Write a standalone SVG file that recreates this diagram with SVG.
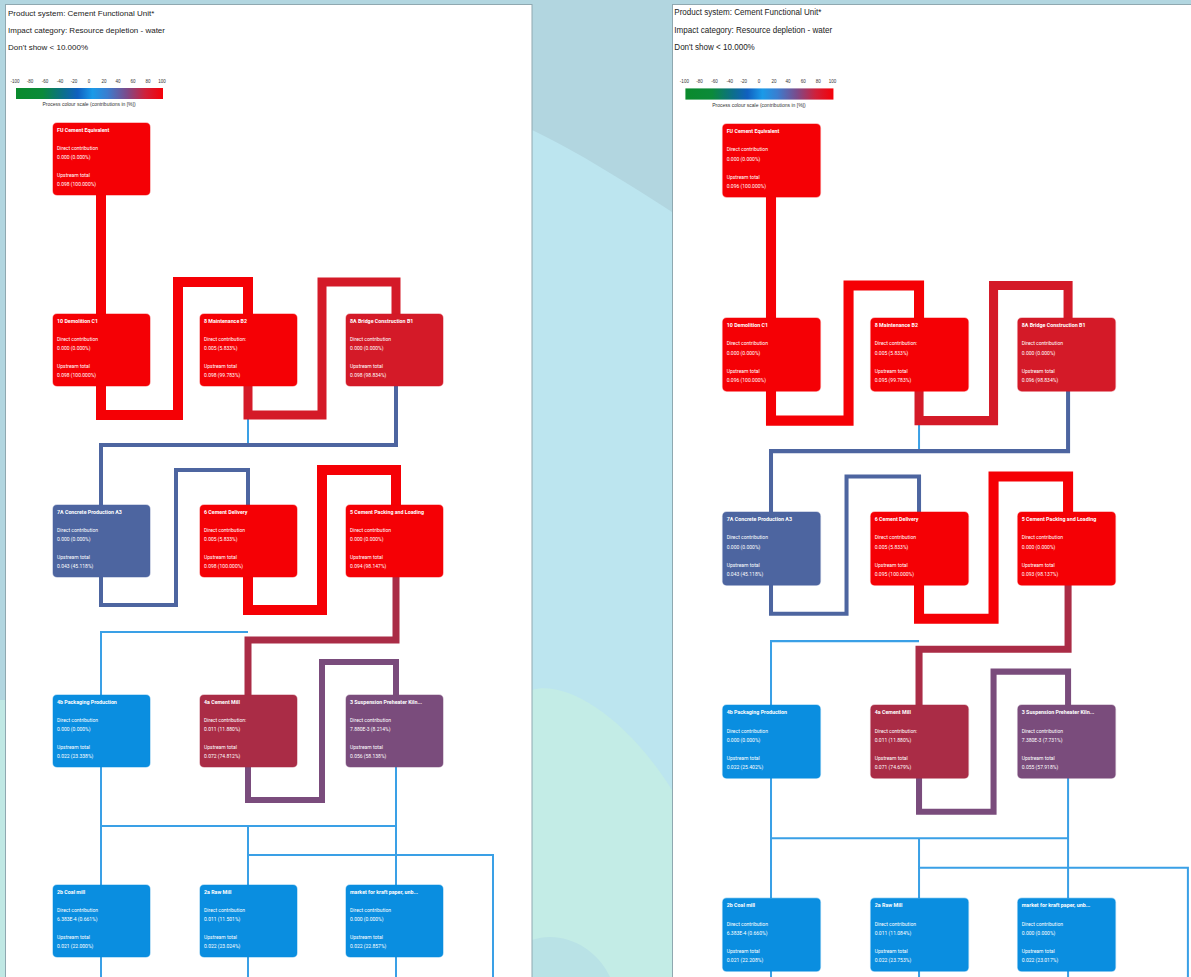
<svg xmlns="http://www.w3.org/2000/svg" width="1191" height="977" viewBox="0 0 1191 977">
<defs>
<linearGradient id="scale" x1="0" y1="0" x2="1" y2="0">
<stop offset="0" stop-color="#0a8a2c"/>
<stop offset="0.18" stop-color="#0b8a3a"/>
<stop offset="0.32" stop-color="#0c6f8a"/>
<stop offset="0.42" stop-color="#1060c0"/>
<stop offset="0.52" stop-color="#1a9ae8"/>
<stop offset="0.62" stop-color="#3a7ed0"/>
<stop offset="0.75" stop-color="#7a4c8c"/>
<stop offset="0.88" stop-color="#d0203a"/>
<stop offset="1" stop-color="#f50008"/>
</linearGradient>
<style>
.hd{font-family:"Liberation Sans",Arial,sans-serif;font-size:8px;fill:#222}
.tk{font-family:"Liberation Sans",Arial,sans-serif;font-size:4.5px;fill:#333}
.cap{font-family:"Liberation Sans",Arial,sans-serif;font-size:5px;fill:#333}
.node rect{stroke-width:1.5;stroke-opacity:0.35}
.node text{font-family:Roboto,"Liberation Sans",sans-serif;font-size:5px;fill:#fff}
.node text.t{font-weight:bold;font-size:5.3px}
.c{fill:none;stroke-linejoin:miter;stroke-linecap:butt}
.red{stroke:#f50005;stroke-width:10}
.crim{stroke:#d41a28;stroke-width:9}
.blue{stroke:#4d65a0;stroke-width:4}
.mill{stroke:#aa2c46;stroke-width:7}
.purp{stroke:#7a4c7c;stroke-width:6}
.lb{stroke:#3aa0e6;stroke-width:2}
.fr{fill:#f50005;stroke:#f50005}
.fc{fill:#d41a28;stroke:#d41a28}
.fb{fill:#4d65a0;stroke:#4d65a0}
.fm{fill:#aa2c46;stroke:#aa2c46}
.fp{fill:#7a4c7c;stroke:#7a4c7c}
.fl{fill:#0a8ee0;stroke:#0a8ee0}
</style>
</defs>
<!-- background -->
<rect x="0" y="0" width="1191" height="977" fill="#b2d6e0"/>
<path d="M532,130 C575,150 630,185 672,212 V977 H532 Z" fill="#bce5ef"/>
<path d="M532,690 C565,680 625,715 672,790 V977 H532 Z" fill="#c3ece6"/>
<path d="M532,940 C560,930 595,945 610,977 H532 Z" fill="#b9e2e6"/>
<rect x="0" y="700" width="5" height="277" fill="#c0e8e4"/>

<!-- LEFT PANEL -->
<g id="left-panel">
<rect x="5.5" y="4.5" width="526.5" height="980" fill="#ffffff" stroke="#8fa8b0" stroke-width="1"/>
<text class="hd" x="8" y="16">Product system: Cement Functional Unit*</text>
<text class="hd" x="8" y="33">Impact category: Resource depletion - water</text>
<text class="hd" x="8" y="50">Don't show &lt; 10.000%</text>
<g id="l-scale">
<text class="tk" x="15" y="83" text-anchor="middle">-100</text>
<text class="tk" x="30" y="83" text-anchor="middle">-80</text>
<text class="tk" x="45" y="83" text-anchor="middle">-60</text>
<text class="tk" x="60" y="83" text-anchor="middle">-40</text>
<text class="tk" x="74" y="83" text-anchor="middle">-20</text>
<text class="tk" x="89" y="83" text-anchor="middle">0</text>
<text class="tk" x="104" y="83" text-anchor="middle">20</text>
<text class="tk" x="118" y="83" text-anchor="middle">40</text>
<text class="tk" x="133" y="83" text-anchor="middle">60</text>
<text class="tk" x="148" y="83" text-anchor="middle">80</text>
<text class="tk" x="162" y="83" text-anchor="middle">100</text>
<rect x="16" y="88" width="147" height="11" fill="url(#scale)"/>
<text class="cap" x="89" y="106" text-anchor="middle">Process colour scale (contributions in [%])</text>
</g>
<g id="l-connectors">
<path class="c lb" d="M248,385 V445"/>
<path class="c red" d="M101,194 V314"/>
<path class="c red" d="M101,385 V415 H178 V282 H248 V314"/>
<path class="c crim" d="M248,385 V415 H322 V282 H396 V314"/>
<path class="c blue" d="M396,385 V445 H101 V505"/>
<path class="c blue" d="M101,576 V605 H176 V470 H248 V505"/>
<path class="c red" d="M248,576 V610 H322 V470 H396 V505"/>
<path class="c lb" d="M101,695 V632 H248"/>
<path class="c mill" d="M396,576 V640 H248 V695"/>
<path class="c purp" d="M248,766 V800 H322 V662 H396 V695"/>
<path class="c lb" d="M101,766 V885 M101,826 H396 M396,766 V885 M248,826 V885 M248,855 H493 V977 M101,956 V977 M248,956 V977 M396,956 V977"/>
</g>
<g id="l-fu" class="node"><rect class="fr" x="53" y="123" width="97" height="72" rx="4"/><text class="t" x="57" y="132">FU Cement Equivalent</text><text x="57" y="150">Direct contribution</text><text x="57" y="159">0.000 (0.000%)</text><text x="57" y="177">Upstream total</text><text x="57" y="186">0.098 (100.000%)</text></g>
<g id="l-demolition" class="node"><rect class="fr" x="53" y="314" width="97" height="72" rx="4"/><text class="t" x="57" y="323">10 Demolition C1</text><text x="57" y="341">Direct contribution</text><text x="57" y="350">0.000 (0.000%)</text><text x="57" y="368">Upstream total</text><text x="57" y="377">0.098 (100.000%)</text></g>
<g id="l-maintenance" class="node"><rect class="fr" x="200" y="314" width="97" height="72" rx="4"/><text class="t" x="204" y="323">8 Maintenance B2</text><text x="204" y="341">Direct contribution:</text><text x="204" y="350">0.005 (5.833%)</text><text x="204" y="368">Upstream total</text><text x="204" y="377">0.098 (99.783%)</text></g>
<g id="l-bridge" class="node"><rect class="fc" x="346" y="314" width="97" height="72" rx="4"/><text class="t" x="350" y="323">8A Bridge Construction B1</text><text x="350" y="341">Direct contribution</text><text x="350" y="350">0.000 (0.000%)</text><text x="350" y="368">Upstream total</text><text x="350" y="377">0.098 (98.834%)</text></g>
<g id="l-concrete" class="node"><rect class="fb" x="53" y="505" width="97" height="72" rx="4"/><text class="t" x="57" y="514">7A Concrete Production A3</text><text x="57" y="532">Direct contribution</text><text x="57" y="541">0.000 (0.000%)</text><text x="57" y="559">Upstream total</text><text x="57" y="568">0.043 (45.118%)</text></g>
<g id="l-delivery" class="node"><rect class="fr" x="200" y="505" width="97" height="72" rx="4"/><text class="t" x="204" y="514">6 Cement Delivery</text><text x="204" y="532">Direct contribution</text><text x="204" y="541">0.005 (5.833%)</text><text x="204" y="559">Upstream total</text><text x="204" y="568">0.098 (100.000%)</text></g>
<g id="l-packing" class="node"><rect class="fr" x="346" y="505" width="97" height="72" rx="4"/><text class="t" x="350" y="514">5 Cement Packing and Loading</text><text x="350" y="532">Direct contribution</text><text x="350" y="541">0.000 (0.000%)</text><text x="350" y="559">Upstream total</text><text x="350" y="568">0.094 (98.147%)</text></g>
<g id="l-packaging" class="node"><rect class="fl" x="53" y="695" width="97" height="72" rx="4"/><text class="t" x="57" y="704">4b Packaging Production</text><text x="57" y="722">Direct contribution</text><text x="57" y="731">0.000 (0.000%)</text><text x="57" y="749">Upstream total</text><text x="57" y="758">0.022 (23.338%)</text></g>
<g id="l-mill" class="node"><rect class="fm" x="200" y="695" width="97" height="72" rx="4"/><text class="t" x="204" y="704">4a Cement Mill</text><text x="204" y="722">Direct contribution:</text><text x="204" y="731">0.011 (11.880%)</text><text x="204" y="749">Upstream total</text><text x="204" y="758">0.072 (74.812%)</text></g>
<g id="l-preheater" class="node"><rect class="fp" x="346" y="695" width="97" height="72" rx="4"/><text class="t" x="350" y="704">3 Suspension Preheater Kiln...</text><text x="350" y="722">Direct contribution</text><text x="350" y="731">7.880E-3 (8.214%)</text><text x="350" y="749">Upstream total</text><text x="350" y="758">0.056 (58.138%)</text></g>
<g id="l-coal" class="node"><rect class="fl" x="53" y="885" width="97" height="72" rx="4"/><text class="t" x="57" y="894">2b Coal mill</text><text x="57" y="912">Direct contribution</text><text x="57" y="921">6.383E-4 (0.661%)</text><text x="57" y="939">Upstream total</text><text x="57" y="948">0.021 (22.000%)</text></g>
<g id="l-raw" class="node"><rect class="fl" x="200" y="885" width="97" height="72" rx="4"/><text class="t" x="204" y="894">2a Raw Mill</text><text x="204" y="912">Direct contribution</text><text x="204" y="921">0.011 (11.501%)</text><text x="204" y="939">Upstream total</text><text x="204" y="948">0.022 (23.024%)</text></g>
<g id="l-kraft" class="node"><rect class="fl" x="346" y="885" width="97" height="72" rx="4"/><text class="t" x="350" y="894">market for kraft paper, unb...</text><text x="350" y="912">Direct contribution</text><text x="350" y="921">0.000 (0.000%)</text><text x="350" y="939">Upstream total</text><text x="350" y="948">0.022 (22.857%)</text></g>
</g>

<!-- RIGHT PANEL -->
<rect x="672.5" y="4.5" width="525" height="980" fill="#ffffff" stroke="#8fa8b0" stroke-width="1"/>
<g id="right-panel" transform="matrix(1.007 0 0 1.016 669.3 -1)">
<text class="hd" x="5" y="16">Product system: Cement Functional Unit*</text>
<text class="hd" x="5" y="33">Impact category: Resource depletion - water</text>
<text class="hd" x="5" y="50">Don't show &lt; 10.000%</text>
<g id="r-scale">
<text class="tk" x="15" y="83" text-anchor="middle">-100</text>
<text class="tk" x="30" y="83" text-anchor="middle">-80</text>
<text class="tk" x="45" y="83" text-anchor="middle">-60</text>
<text class="tk" x="60" y="83" text-anchor="middle">-40</text>
<text class="tk" x="74" y="83" text-anchor="middle">-20</text>
<text class="tk" x="89" y="83" text-anchor="middle">0</text>
<text class="tk" x="104" y="83" text-anchor="middle">20</text>
<text class="tk" x="118" y="83" text-anchor="middle">40</text>
<text class="tk" x="133" y="83" text-anchor="middle">60</text>
<text class="tk" x="148" y="83" text-anchor="middle">80</text>
<text class="tk" x="162" y="83" text-anchor="middle">100</text>
<rect x="16" y="88" width="147" height="11" fill="url(#scale)"/>
<text class="cap" x="89" y="106" text-anchor="middle">Process colour scale (contributions in [%])</text>
</g>
<g id="r-connectors">
<path class="c lb" d="M248,385 V445"/>
<path class="c red" d="M101,194 V314"/>
<path class="c red" d="M101,385 V415 H178 V282 H248 V314"/>
<path class="c crim" d="M248,385 V415 H322 V282 H396 V314"/>
<path class="c blue" d="M396,385 V445 H101 V505"/>
<path class="c blue" d="M101,576 V605 H176 V470 H248 V505"/>
<path class="c red" d="M248,576 V610 H322 V470 H396 V505"/>
<path class="c lb" d="M101,695 V632 H248"/>
<path class="c mill" d="M396,576 V640 H248 V695"/>
<path class="c purp" d="M248,766 V800 H322 V662 H396 V695"/>
<path class="c lb" d="M101,766 V885 M101,826 H396 M396,766 V885 M248,826 V885 M248,855 H515 V977 M101,956 V977 M248,956 V977 M396,956 V977"/>
</g>
<g id="r-fu" class="node"><rect class="fr" x="53" y="123" width="97" height="72" rx="4"/><text class="t" x="57" y="132">FU Cement Equivalent</text><text x="57" y="150">Direct contribution</text><text x="57" y="159">0.000 (0.000%)</text><text x="57" y="177">Upstream total</text><text x="57" y="186">0.096 (100.000%)</text></g>
<g id="r-demolition" class="node"><rect class="fr" x="53" y="314" width="97" height="72" rx="4"/><text class="t" x="57" y="323">10 Demolition C1</text><text x="57" y="341">Direct contribution</text><text x="57" y="350">0.000 (0.000%)</text><text x="57" y="368">Upstream total</text><text x="57" y="377">0.096 (100.000%)</text></g>
<g id="r-maintenance" class="node"><rect class="fr" x="200" y="314" width="97" height="72" rx="4"/><text class="t" x="204" y="323">8 Maintenance B2</text><text x="204" y="341">Direct contribution:</text><text x="204" y="350">0.005 (5.833%)</text><text x="204" y="368">Upstream total</text><text x="204" y="377">0.095 (99.783%)</text></g>
<g id="r-bridge" class="node"><rect class="fc" x="346" y="314" width="97" height="72" rx="4"/><text class="t" x="350" y="323">8A Bridge Construction B1</text><text x="350" y="341">Direct contribution</text><text x="350" y="350">0.000 (0.000%)</text><text x="350" y="368">Upstream total</text><text x="350" y="377">0.096 (98.834%)</text></g>
<g id="r-concrete" class="node"><rect class="fb" x="53" y="505" width="97" height="72" rx="4"/><text class="t" x="57" y="514">7A Concrete Production A3</text><text x="57" y="532">Direct contribution</text><text x="57" y="541">0.000 (0.000%)</text><text x="57" y="559">Upstream total</text><text x="57" y="568">0.043 (45.118%)</text></g>
<g id="r-delivery" class="node"><rect class="fr" x="200" y="505" width="97" height="72" rx="4"/><text class="t" x="204" y="514">6 Cement Delivery</text><text x="204" y="532">Direct contribution</text><text x="204" y="541">0.005 (5.833%)</text><text x="204" y="559">Upstream total</text><text x="204" y="568">0.095 (100.000%)</text></g>
<g id="r-packing" class="node"><rect class="fr" x="346" y="505" width="97" height="72" rx="4"/><text class="t" x="350" y="514">5 Cement Packing and Loading</text><text x="350" y="532">Direct contribution</text><text x="350" y="541">0.000 (0.000%)</text><text x="350" y="559">Upstream total</text><text x="350" y="568">0.093 (98.137%)</text></g>
<g id="r-packaging" class="node"><rect class="fl" x="53" y="695" width="97" height="72" rx="4"/><text class="t" x="57" y="704">4b Packaging Production</text><text x="57" y="722">Direct contribution</text><text x="57" y="731">0.000 (0.000%)</text><text x="57" y="749">Upstream total</text><text x="57" y="758">0.022 (25.402%)</text></g>
<g id="r-mill" class="node"><rect class="fm" x="200" y="695" width="97" height="72" rx="4"/><text class="t" x="204" y="704">4a Cement Mill</text><text x="204" y="722">Direct contribution:</text><text x="204" y="731">0.011 (11.880%)</text><text x="204" y="749">Upstream total</text><text x="204" y="758">0.071 (74.679%)</text></g>
<g id="r-preheater" class="node"><rect class="fp" x="346" y="695" width="97" height="72" rx="4"/><text class="t" x="350" y="704">3 Suspension Preheater Kiln...</text><text x="350" y="722">Direct contribution</text><text x="350" y="731">7.380E-3 (7.731%)</text><text x="350" y="749">Upstream total</text><text x="350" y="758">0.055 (57.918%)</text></g>
<g id="r-coal" class="node"><rect class="fl" x="53" y="885" width="97" height="72" rx="4"/><text class="t" x="57" y="894">2b Coal mill</text><text x="57" y="912">Direct contribution</text><text x="57" y="921">6.383E-4 (0.660%)</text><text x="57" y="939">Upstream total</text><text x="57" y="948">0.021 (22.208%)</text></g>
<g id="r-raw" class="node"><rect class="fl" x="200" y="885" width="97" height="72" rx="4"/><text class="t" x="204" y="894">2a Raw Mill</text><text x="204" y="912">Direct contribution</text><text x="204" y="921">0.011 (11.084%)</text><text x="204" y="939">Upstream total</text><text x="204" y="948">0.022 (23.753%)</text></g>
<g id="r-kraft" class="node"><rect class="fl" x="346" y="885" width="97" height="72" rx="4"/><text class="t" x="350" y="894">market for kraft paper, unb...</text><text x="350" y="912">Direct contribution</text><text x="350" y="921">0.000 (0.000%)</text><text x="350" y="939">Upstream total</text><text x="350" y="948">0.022 (23.017%)</text></g>
</g>
</svg>
